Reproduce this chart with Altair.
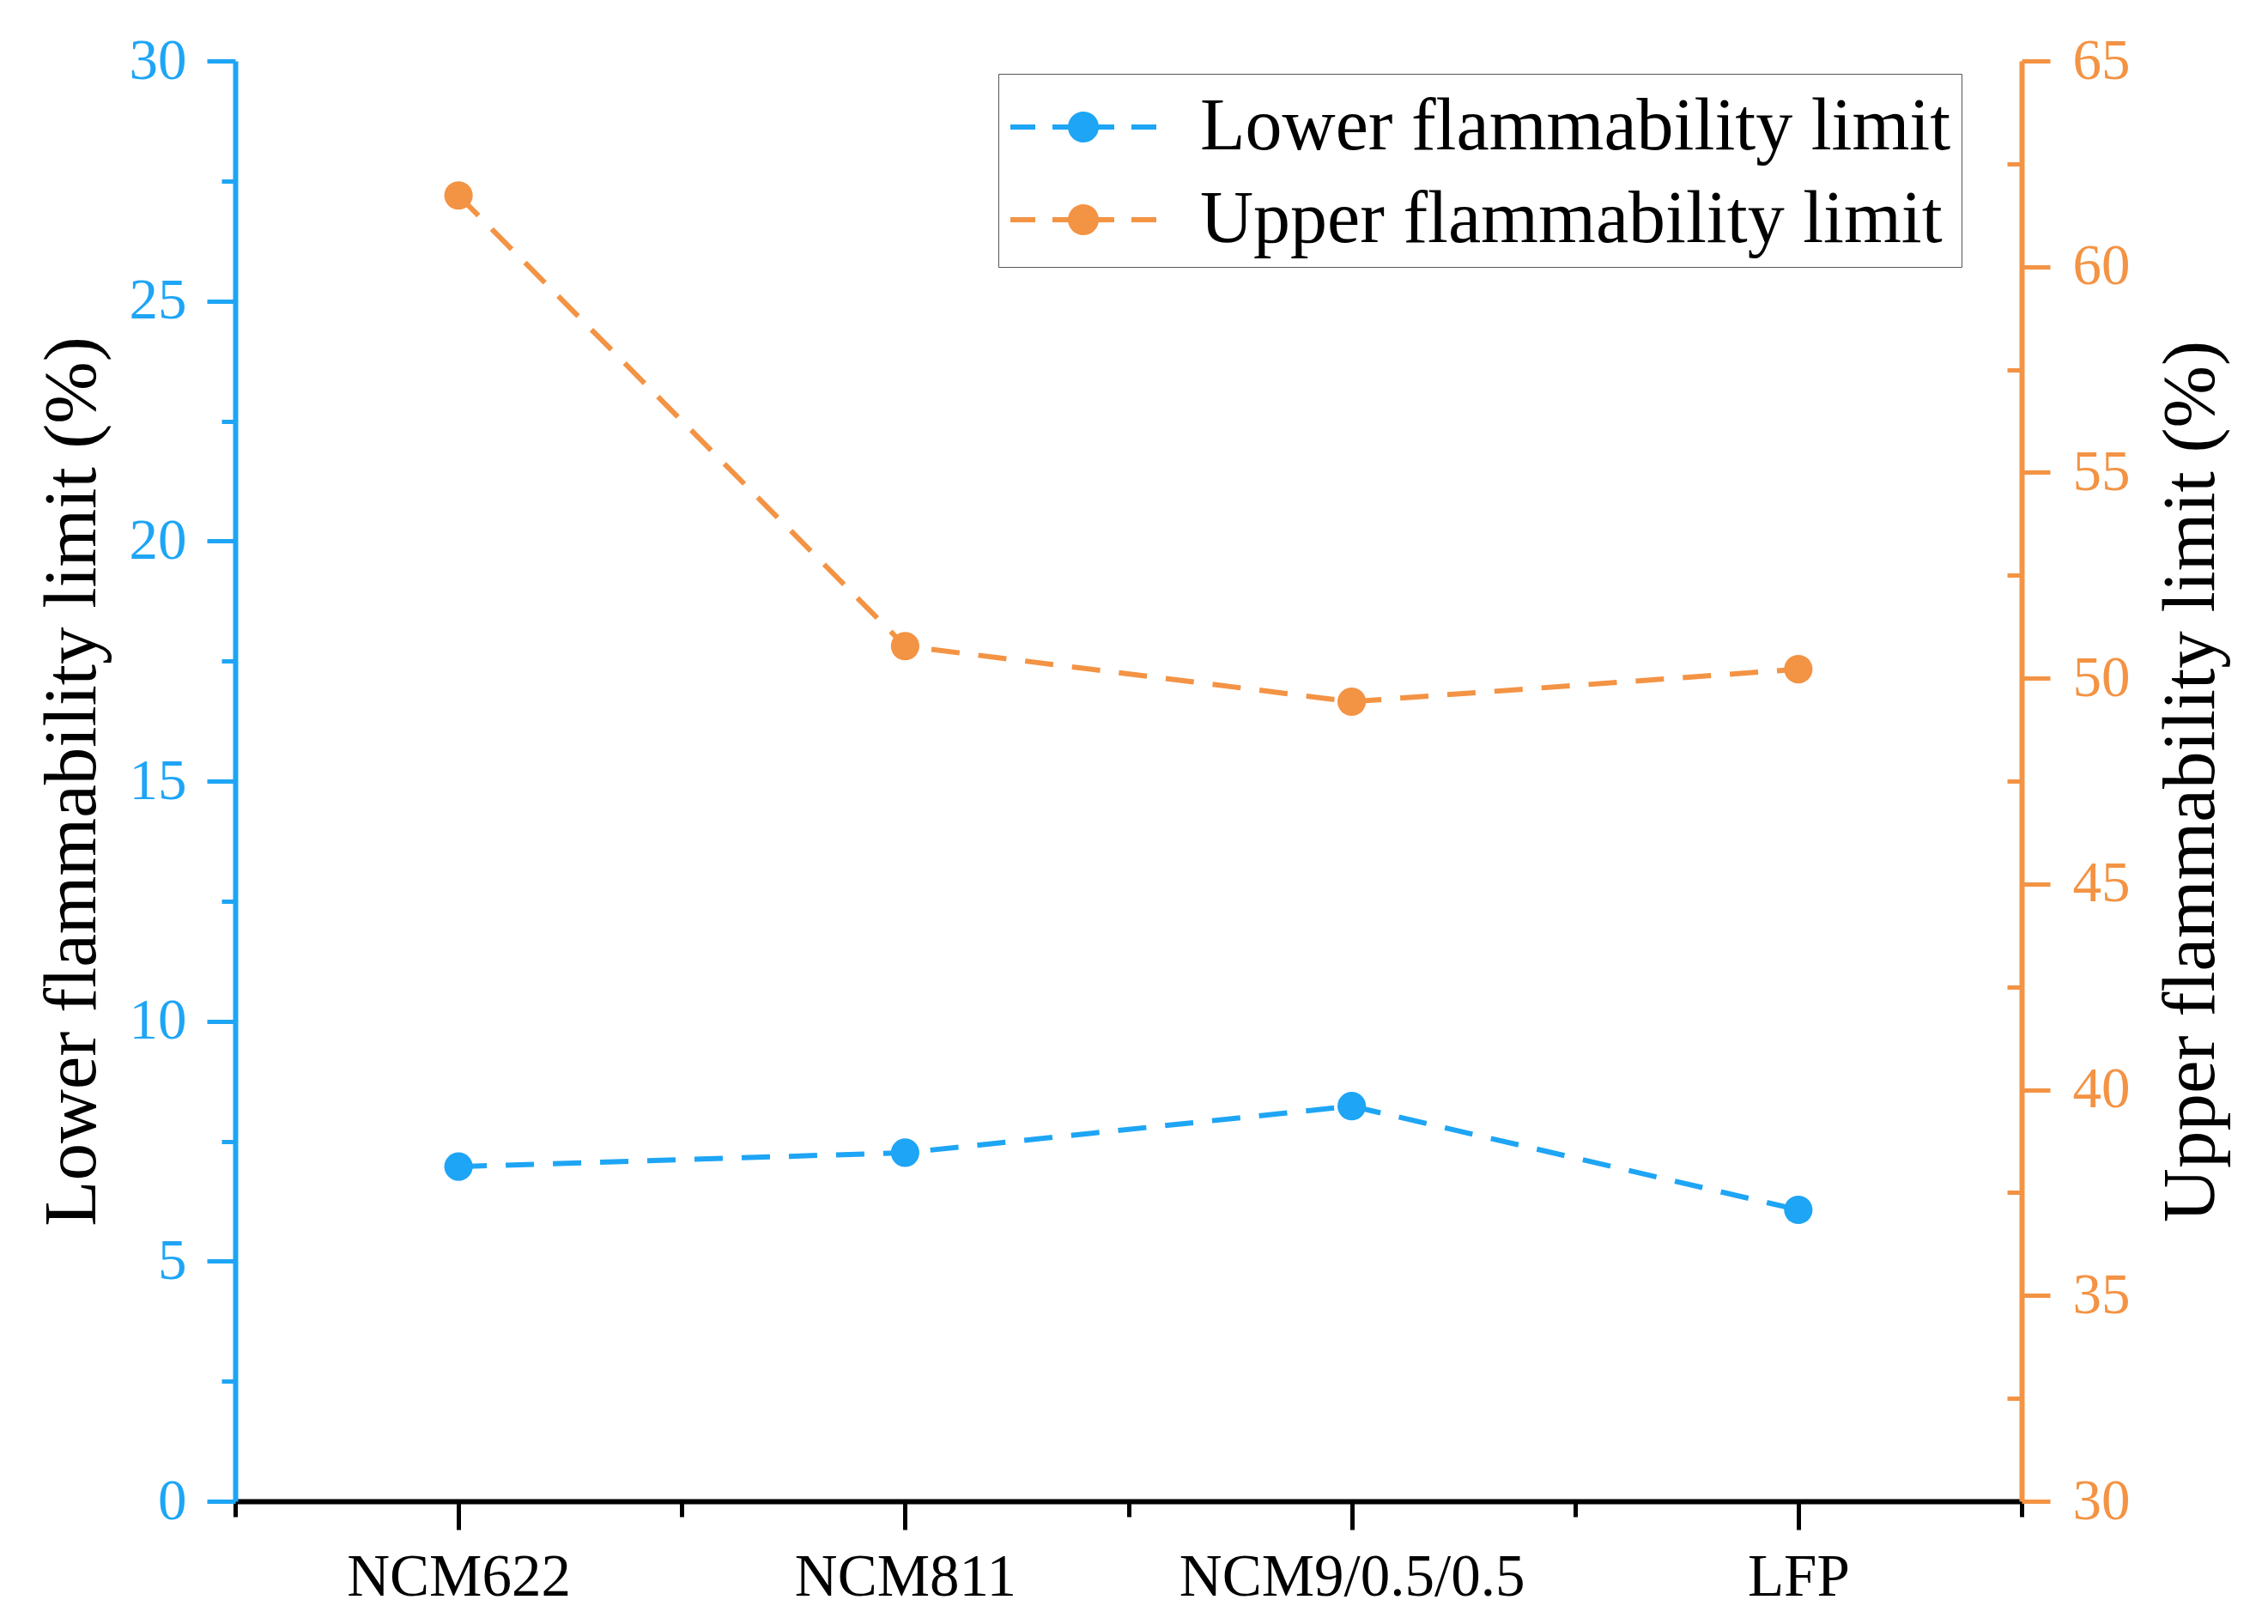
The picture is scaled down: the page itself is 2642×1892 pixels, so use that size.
import json
import altair as alt
import pandas as pd

# ---------------- data ----------------
categories = ["NCM622", "NCM811", "NCM9/0.5/0.5", "LFP"]
lower_limit = [6.97, 7.26, 8.23, 6.07]      # left axis (%)
upper_limit = [61.73, 50.78, 49.43, 50.22]  # right axis (%)
series_names = ["Lower flammability limit", "Upper flammability limit"]

x_tick_values = [0.5, 1, 1.5, 2, 2.5, 3, 3.5, 4, 4.5]
left_tick_values = [0, 2.5, 5, 7.5, 10, 12.5, 15, 17.5, 20, 22.5, 25, 27.5, 30]
right_tick_values = [30, 32.5, 35, 37.5, 40, 42.5, 45, 47.5, 50, 52.5, 55, 57.5, 60, 62.5, 65]

BLUE = "#1ea5f5"
ORANGE = "#f39344"
FONT = "Liberation Serif"

positions = list(range(1, len(categories) + 1))
df_lower = pd.DataFrame({"pos": positions, "category": categories,
                         "value": lower_limit, "series": series_names[0]})
df_upper = pd.DataFrame({"pos": positions, "category": categories,
                         "value": upper_limit, "series": series_names[1]})

# legend symbol: dashed line with a dot in the middle (filled shapes only)
legend_symbol = (
    "M-1.7,-0.06H-1.12V0.06H-1.7Z "
    "M-0.72,-0.06H-0.3V0.06H-0.72Z "
    "M0.3,-0.06H0.72V0.06H0.3Z "
    "M1.12,-0.06H1.7V0.06H1.12Z "
    "M-0.36,0A0.36,0.36 0 1,1 0.36,0A0.36,0.36 0 1,1 -0.36,0Z"
)

color_scale = alt.Scale(domain=series_names, range=[BLUE, ORANGE])
legend = alt.Legend(
    title=None, orient="none", legendX=889, legendY=15,
    symbolType=legend_symbol, symbolSize=10000, symbolStrokeWidth=0,
    symbolOpacity=1, symbolOffset=37, labelOffset=86,
    labelFont=FONT, labelFontSize=86, labelColor="black", labelLimit=0,
    padding=12, rowPadding=15, strokeColor="#555555", fillColor="white",
)

x_label_expr = ("datum.value % 1 === 0 ? " + json.dumps(categories)
                + "[datum.value - 1] : ''")

x_enc = alt.X(
    "pos:Q",
    scale=alt.Scale(domain=[0.5, 4.5], nice=False, zero=False),
    axis=alt.Axis(
        values=x_tick_values, labelExpr=x_label_expr, title=None, grid=False,
        tickSize={"condition": {"test": "datum.value % 1 !== 0", "value": 18}, "value": 33},
        tickWidth=5, tickColor="black", domainColor="black", domainWidth=6,
        labelFont=FONT, labelFontSize=69, labelColor="black", labelLimit=0,
        labelBaseline="alphabetic", labelPadding=76,
        labelOverlap=False, labelFlush=False,
    ),
)

left_axis = alt.Axis(
    orient="left", values=left_tick_values,
    labelExpr="datum.value % 5 === 0 ? datum.label : ''",
    tickSize={"condition": {"test": "datum.value % 5 !== 0", "value": 16}, "value": 33},
    tickWidth=5, tickColor=BLUE, domainColor=BLUE, domainWidth=6, grid=False,
    labelFont=FONT, labelFontSize=67, labelColor=BLUE, labelPadding=24,
    labelOverlap=False, labelFlush=False, labelLimit=0,
    title="Lower flammability limit (%)", titleFont=FONT, titleFontSize=87,
    titleFontWeight="normal", titleColor="black", titleAngle=270,
    titleX=-164, titleY=839, titleAlign="center", titleBaseline="alphabetic",
)

right_axis = alt.Axis(
    orient="right", values=right_tick_values,
    labelExpr="datum.value % 5 === 0 ? datum.label : ''",
    tickSize={"condition": {"test": "datum.value % 5 !== 0", "value": -17}, "value": 33},
    tickWidth=5, tickColor=ORANGE, domainColor=ORANGE, domainWidth=6, grid=False,
    labelFont=FONT, labelFontSize=67, labelColor=ORANGE, labelPadding=26,
    labelOverlap=False, labelFlush=False, labelLimit=0,
    title="Upper flammability limit (%)", titleFont=FONT, titleFontSize=87,
    titleFontWeight="normal", titleColor="black", titleAngle=270,
    titleX=223, titleY=839, titleAlign="center", titleBaseline="alphabetic",
)

y_lower = alt.Y("value:Q", scale=alt.Scale(domain=[0, 30], nice=False, zero=False), axis=left_axis)
y_upper = alt.Y("value:Q", scale=alt.Scale(domain=[30, 65], nice=False, zero=False), axis=right_axis)

lower_line = alt.Chart(df_lower).mark_line(
    color=BLUE, strokeWidth=6, strokeDash=[33, 22]
).encode(x=x_enc, y=y_lower)
lower_pts = alt.Chart(df_lower).mark_point(
    filled=True, size=1100, opacity=1, strokeWidth=0
).encode(x=x_enc, y=y_lower,
         color=alt.Color("series:N", scale=color_scale, legend=legend))

upper_line = alt.Chart(df_upper).mark_line(
    color=ORANGE, strokeWidth=6, strokeDash=[33, 22]
).encode(x=x_enc, y=y_upper)
upper_pts = alt.Chart(df_upper).mark_point(
    filled=True, size=1100, opacity=1, strokeWidth=0
).encode(x=x_enc, y=y_upper,
         color=alt.Color("series:N", scale=color_scale, legend=legend))

chart = alt.layer(
    alt.layer(lower_line, lower_pts),
    alt.layer(upper_line, upper_pts),
).resolve_scale(y="independent").properties(
    width=2081, height=1678,
    autosize=alt.AutoSizeParams(type="none"),
    padding={"left": 266, "top": 63, "right": 279, "bottom": 135},
    background="white",
).configure_view(stroke=None)

chart.save("out.html", embed_options={"renderer": "svg", "actions": False})
